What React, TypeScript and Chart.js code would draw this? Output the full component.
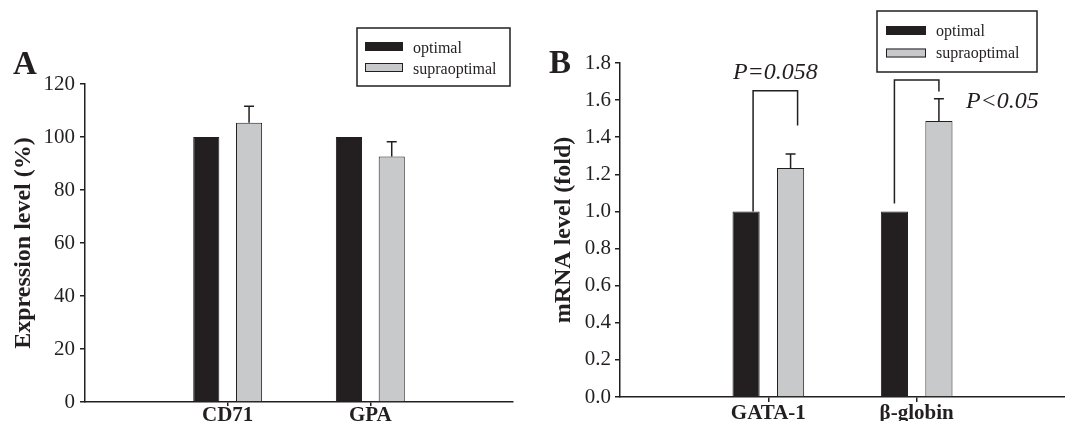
import React, { useEffect, useRef } from 'react';
import { Chart, registerables } from 'chart.js';

Chart.register(...registerables);

// ---------- data ----------
const seriesLabels = ['optimal', 'supraoptimal'];
const seriesColors = ['#231f20', '#c8c9cb'];

const categoriesA = ['', 'CD71', 'GPA', ''];
const optimalA: (number | null)[] = [null, 100, 100, null];
const supraA: (number | null)[] = [null, 105.4, 92.6, null];
const supraErrA: (number | null)[] = [null, 6.2, 5.6, null];
const yTicksA = [0, 20, 40, 60, 80, 100, 120];

const categoriesB = ['', 'GATA-1', '\u03b2-globin', ''];
const optimalB: (number | null)[] = [null, 1.0, 1.0, null];
const supraB: (number | null)[] = [null, 1.234, 1.487, null];
const supraErrB: (number | null)[] = [null, 0.076, 0.121, null];
const yTicksB = [0, 0.2, 0.4, 0.6, 0.8, 1.0, 1.2, 1.4, 1.6, 1.8];

// significance annotations (panel B)
const pLabelsB = ['P=0.058', 'P<0.05'];
const pLabelValueB = [1.713, 1.555];
const bracketCategoryB = [1, 2];
const bracketTopB = [1.651, 1.708];
const bracketLeftFromB = [1.0, 1.043];
const bracketRightToB = [1.463, 1.647];

// ---------- styles / layout ----------
const FONT = "'Liberation Serif', 'Times New Roman', Times, serif";
const INK = '#231f20';
const BRACKET_X_SHIFT = [7, 0];

type LegendGeom = {
  x: number; y: number; w: number; h: number;
  swX: number; swW: number; swH: number; swY: number[];
  textX: number; baselines: number[];
};

function legendPlugin(g: LegendGeom) {
  return {
    id: 'boxLegend',
    afterDraw(chart: any) {
      const ctx = chart.ctx;
      ctx.save();
      ctx.lineWidth = 1.5;
      ctx.strokeStyle = INK;
      ctx.strokeRect(g.x, g.y, g.w, g.h);
      chart.data.datasets.forEach((ds: any, i: number) => {
        ctx.fillStyle = ds.backgroundColor;
        ctx.fillRect(g.swX, g.swY[i], g.swW, g.swH);
        ctx.lineWidth = 1;
        ctx.strokeRect(g.swX + 0.5, g.swY[i] + 0.5, g.swW - 1, g.swH - 1);
        ctx.fillStyle = INK;
        ctx.font = `16px ${FONT}`;
        ctx.textAlign = 'left';
        ctx.textBaseline = 'alphabetic';
        ctx.fillText(ds.label, g.textX, g.baselines[i]);
      });
      ctx.restore();
    },
  };
}

function letterPlugin(letter: string, x: number, baseline: number) {
  return {
    id: 'panelLetter',
    afterDraw(chart: any) {
      const ctx = chart.ctx;
      ctx.save();
      ctx.fillStyle = INK;
      ctx.font = `bold 33px ${FONT}`;
      ctx.textAlign = 'left';
      ctx.textBaseline = 'alphabetic';
      ctx.fillText(letter, x, baseline);
      ctx.restore();
    },
  };
}

function errorBarPlugin(errs: (number | null)[], datasetIndex: number, capWidth: number) {
  return {
    id: 'errorBars',
    afterDatasetsDraw(chart: any) {
      const meta = chart.getDatasetMeta(datasetIndex);
      const ys = chart.scales.y;
      const data = chart.data.datasets[datasetIndex].data;
      const ctx = chart.ctx;
      ctx.save();
      ctx.strokeStyle = INK;
      ctx.lineWidth = 1.5;
      errs.forEach((e, i) => {
        const v = data[i];
        if (e == null || v == null) return;
        const bar = meta.data[i];
        const x = bar.x;
        const yTop = ys.getPixelForValue(v + e);
        ctx.beginPath();
        ctx.moveTo(x, bar.y);
        ctx.lineTo(x, yTop);
        ctx.moveTo(x - capWidth / 2, yTop);
        ctx.lineTo(x + capWidth / 2, yTop);
        ctx.stroke();
      });
      ctx.restore();
    },
  };
}

const bracketPlugin = {
  id: 'brackets',
  afterDatasetsDraw(chart: any) {
    const m0 = chart.getDatasetMeta(0);
    const m1 = chart.getDatasetMeta(1);
    const ys = chart.scales.y;
    const ctx = chart.ctx;
    ctx.save();
    ctx.strokeStyle = INK;
    ctx.lineWidth = 1.5;
    bracketCategoryB.forEach((ci, k) => {
      const xl = m0.data[ci].x + BRACKET_X_SHIFT[k];
      const xr = m1.data[ci].x + BRACKET_X_SHIFT[k];
      const yt = ys.getPixelForValue(bracketTopB[k]);
      ctx.beginPath();
      ctx.moveTo(xl, ys.getPixelForValue(bracketLeftFromB[k]));
      ctx.lineTo(xl, yt);
      ctx.lineTo(xr, yt);
      ctx.lineTo(xr, ys.getPixelForValue(bracketRightToB[k]));
      ctx.stroke();
      ctx.fillStyle = INK;
      ctx.font = `italic 24px ${FONT}`;
      ctx.textBaseline = 'alphabetic';
      const yText = ys.getPixelForValue(pLabelValueB[k]);
      if (k === 0) {
        ctx.textAlign = 'center';
        ctx.fillText(pLabelsB[k], (xl + xr) / 2, yText);
      } else {
        ctx.textAlign = 'left';
        ctx.fillText(pLabelsB[k], xr + 27, yText);
      }
    });
    ctx.restore();
  },
};

type PanelProps = {
  left: number;
  width: number;
  categories: string[];
  optimal: (number | null)[];
  supra: (number | null)[];
  supraErr: (number | null)[];
  yTicks: number[];
  yMax: number;
  fmt: (v: number) => string;
  yTitle: string;
  yWidth: number;
  xHeight: number;
  padTop: number;
  padRight: number;
  titlePad: number;
  tickPad: number;
  xTickPad: number;
  xTickLen: number;
  capWidth: number;
  extraPlugins: any[];
};

function Panel(p: PanelProps) {
  const ref = useRef<HTMLCanvasElement | null>(null);
  useEffect(() => {
    if (!ref.current) return;
    const barOpts = { borderColor: INK, borderWidth: 1, categoryPercentage: 0.6, barPercentage: 0.61 };
    const chart = new Chart(ref.current, {
      type: 'bar',
      data: {
        labels: p.categories,
        datasets: [
          { label: seriesLabels[0], data: p.optimal, backgroundColor: seriesColors[0], ...barOpts },
          { label: seriesLabels[1], data: p.supra, backgroundColor: seriesColors[1], ...barOpts },
        ],
      },
      options: {
        responsive: false,
        animation: false,
        devicePixelRatio: 1,
        layout: { padding: { left: 0, right: p.padRight, top: p.padTop, bottom: 0 } },
        plugins: { legend: { display: false }, tooltip: { enabled: false }, title: { display: false } },
        scales: {
          x: {
            offset: false,
            grid: {
              offset: false,
              drawOnChartArea: false,
              drawTicks: true,
              tickLength: p.xTickLen,
              lineWidth: 1.5,
              color: (c: any) => (c.index === 1 || c.index === 2 ? INK : 'rgba(0,0,0,0)'),
            },
            border: { color: INK, width: 1.5 },
            ticks: {
              font: { family: FONT, size: 21, weight: 'bold' },
              color: INK,
              padding: p.xTickPad,
              maxRotation: 0,
              autoSkip: false,
            },
            afterFit: (s: any) => { s.height = p.xHeight; },
          },
          y: {
            min: 0,
            max: p.yMax,
            grid: { drawOnChartArea: false, drawTicks: true, tickLength: 5, lineWidth: 1.5, color: INK },
            border: { color: INK, width: 1.5 },
            ticks: {
              font: { family: FONT, size: 21 },
              color: INK,
              padding: p.tickPad,
              callback: (v: any) => p.fmt(Number(v)),
            },
            afterBuildTicks: (s: any) => { s.ticks = p.yTicks.map((v) => ({ value: v })); },
            afterFit: (s: any) => { s.width = p.yWidth; },
            title: {
              display: true,
              text: p.yTitle,
              color: INK,
              font: { family: FONT, size: 24, weight: 'bold', lineHeight: 1.2 },
              padding: { top: p.titlePad, bottom: 0 },
            },
          },
        },
      } as any,
      plugins: [errorBarPlugin(p.supraErr, 1, p.capWidth), ...p.extraPlugins],
    });
    return () => chart.destroy();
  }, []);
  return (
    <canvas
      ref={ref}
      width={p.width}
      height={421}
      style={{ position: 'absolute', left: p.left, top: 0, width: p.width, height: 421 }}
    />
  );
}

export default function App() {
  return (
    <div style={{ position: 'absolute', left: 0, top: 0, width: 1065, height: 421, background: '#fff', overflow: 'hidden' }}>
      <Panel
        left={0}
        width={530}
        categories={categoriesA}
        optimal={optimalA}
        supra={supraA}
        supraErr={supraErrA}
        yTicks={yTicksA}
        yMax={120}
        fmt={(v) => String(v)}
        yTitle="Expression level (%)"
        yWidth={85}
        xHeight={19}
        padTop={84}
        padRight={17}
        titlePad={9.6}
        tickPad={5}
        xTickPad={-3}
        xTickLen={4}
        capWidth={10}
        extraPlugins={[
          letterPlugin('A', 13, 74),
          legendPlugin({ x: 357, y: 28, w: 153, h: 58, swX: 365, swW: 38, swH: 9, swY: [42, 63], textX: 413, baselines: [52.5, 73.5] }),
        ]}
      />
      <Panel
        left={530}
        width={535}
        categories={categoriesB}
        optimal={optimalB}
        supra={supraB}
        supraErr={supraErrB}
        yTicks={yTicksB}
        yMax={1.8}
        fmt={(v) => v.toFixed(1)}
        yTitle="mRNA level (fold)"
        yWidth={90}
        xHeight={24}
        padTop={63}
        padRight={0}
        titlePad={19.6}
        tickPad={4}
        xTickPad={-1}
        xTickLen={5}
        capWidth={10}
        extraPlugins={[
          letterPlugin('B', 19, 73),
          bracketPlugin,
          legendPlugin({ x: 347, y: 11, w: 160, h: 61, swX: 356, swW: 40, swH: 9, swY: [26, 48.5], textX: 406, baselines: [36, 57.5] }),
        ]}
      />
    </div>
  );
}
